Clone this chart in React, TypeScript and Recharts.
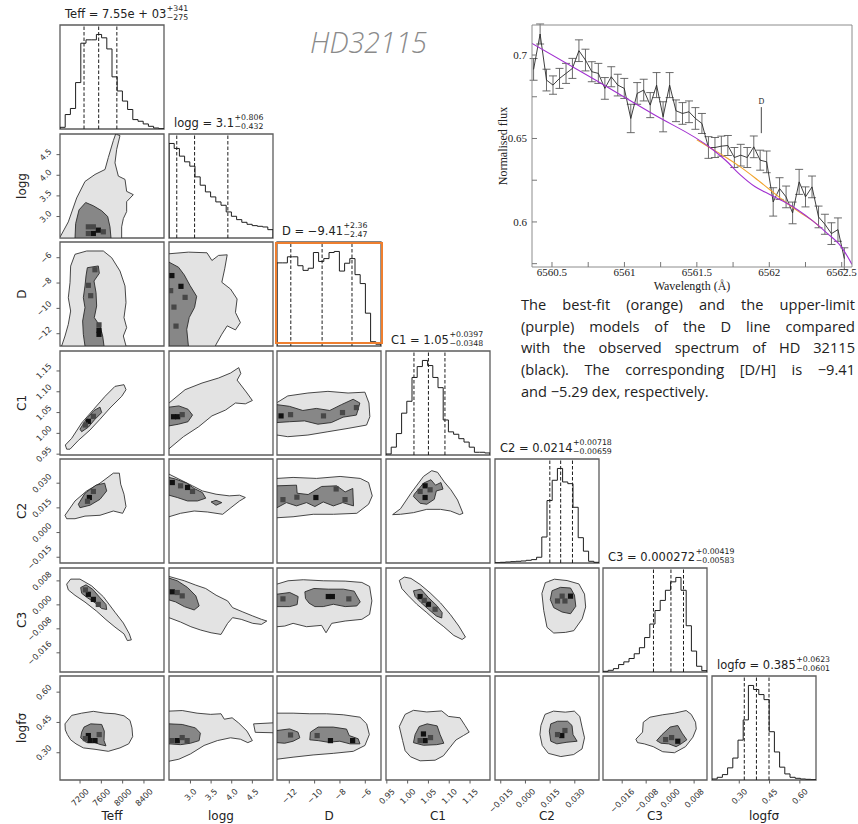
import React from "react";
import {
  ComposedChart,
  Scatter,
  Line,
  XAxis,
  YAxis,
  ReferenceLine,
  ReferenceArea,
  ReferenceDot,
  ErrorBar,
} from "recharts";

const FONT = "'DejaVu Sans', sans-serif";
const SERIF = "'Liberation Serif', 'DejaVu Serif', serif";
const FRAME = "#5c5c5c";
const INK = "#1e1e1e";
const TICK_FS = 8.2;

// ---- corner plot variables (order = rows / columns) ----
const NAMES = ["Teff", "logg", "D", "C1", "C2", "C3", "logfσ"];
const LO = [6824, 2.48, -12.97, 0.948, -0.0185, -0.0224, 0.165];
const HI = [8776, 5.0, -4.76, 1.198, 0.0447, 0.0123, 0.68];
const TICKS = [
  [7200, 7600, 8000, 8400],
  [3.0, 3.5, 4.0, 4.5],
  [-12, -10, -8, -6],
  [0.95, 1.0, 1.05, 1.1, 1.15],
  [-0.015, 0, 0.015, 0.03],
  [-0.016, -0.008, 0, 0.008],
  [0.3, 0.45, 0.6],
];
const TICK_TEXT = [
  ["7200", "7600", "8000", "8400"],
  ["3.0", "3.5", "4.0", "4.5"],
  ["−12", "−10", "−8", "−6"],
  ["0.95", "1.00", "1.05", "1.10", "1.15"],
  ["−0.015", "0.000", "0.015", "0.030"],
  ["−0.016", "−0.008", "0.000", "0.008"],
  ["0.30", "0.45", "0.60"],
];

// titles above the diagonal
const TITLE_MAIN = ["Teff = 7.55e + 03", "logg = 3.1", "D = −9.41", "C1 = 1.05", "C2 = 0.0214", "C3 = 0.000272", "logfσ = 0.385"];
const TITLE_UP = ["+341", "+0.806", "+2.36", "+0.0397", "+0.00718", "+0.00419", "+0.0623"];
const TITLE_DN = ["−275", "−0.432", "−2.47", "−0.0348", "−0.00659", "−0.00583", "−0.0601"];

// 16/50/84 % quantiles (dashed lines)
const Q_TEFF = [7275, 7550, 7891];
const Q_LOGG = [2.668, 3.1, 3.906];
const Q_D = [-11.88, -9.41, -7.05];
const Q_C1 = [1.0152, 1.05, 1.0897];
const Q_C2 = [0.01481, 0.0214, 0.02858];
const Q_C3 = [-0.005558, 0.000272, 0.004462];
const Q_LOGF = [0.3249, 0.385, 0.4473];

// 1D histogram counts, 20 bins over each range
const H_TEFF = [5, 43, 61, 138, 255, 265, 265, 281, 271, 238, 155, 113, 83, 58, 28, 23, 15, 8, 3, 1];
const H_LOGG = [283, 268, 245, 228, 215, 183, 158, 138, 123, 108, 98, 78, 65, 55, 47, 41, 37, 35, 33, 25];
const H_D = [233, 233, 250, 250, 225, 212, 218, 262, 237, 245, 262, 265, 210, 232, 245, 200, 175, 92, 12, 5];
const H_C1 = [3, 23, 63, 123, 158, 228, 260, 278, 263, 228, 198, 103, 68, 61, 48, 38, 23, 8, 8, 6];
const H_C2 = [1, 2, 3, 4, 5, 6, 8, 10, 17, 77, 185, 245, 280, 240, 235, 165, 75, 35, 5, 2];
const H_C3 = [2, 5, 10, 22, 30, 40, 54, 72, 102, 142, 182, 212, 242, 267, 280, 242, 137, 62, 17, 4];
const H_LOGF = [3, 8, 16, 36, 65, 118, 178, 280, 268, 253, 238, 143, 83, 38, 18, 8, 5, 3, 2, 1];

// 2D panels: outer / inner contour outlines and the darkest bins
const TEFF_LOGG_OUT = [[6824, 2.5], [6980, 2.87], [7137, 3.45], [7293, 3.85], [7481, 4.02], [7669, 4.14], [7731, 4.43], [7825, 4.84], [7869, 5.0], [7950, 4.96], [7888, 4.63], [7856, 4.3], [7919, 3.98], [8044, 3.9], [8075, 3.61], [8200, 3.53], [8075, 3.36], [8075, 3.12], [8013, 2.95], [7981, 2.75], [7981, 2.48], [6824, 2.48]];
const TEFF_LOGG_IN = [[7106, 2.48], [7118, 2.83], [7181, 3.16], [7306, 3.34], [7450, 3.26], [7606, 3.14], [7719, 3.0], [7762, 2.75], [7781, 2.48]];
const TEFF_LOGG_DARK = [[7543, 2.67, 2], [7450, 2.59, 2], [7356, 2.75, 1], [7450, 2.75, 1], [7356, 2.59, 1], [7637, 2.63, 1]];

const TEFF_D_OUT = [[6855, -12.97], [6918, -12.18], [6980, -11.26], [7024, -10.21], [6980, -9.16], [7012, -7.97], [7024, -6.66], [7106, -5.73], [7325, -5.47], [7637, -5.47], [7794, -6.0], [7950, -7.05], [8044, -8.23], [8063, -9.55], [8025, -10.73], [8075, -11.52], [8013, -12.18], [8063, -12.97]];
const TEFF_D_IN = [[7312, -7.44], [7337, -6.79], [7543, -6.65], [7562, -7.23], [7462, -7.84], [7500, -8.76], [7512, -9.81], [7468, -10.73], [7575, -11.39], [7625, -12.18], [7650, -12.97], [7293, -12.97], [7262, -12.05], [7249, -11.0], [7293, -9.94], [7262, -9.15], [7293, -8.23]];
const TEFF_D_DARK = [[7556, -11.73, 2], [7556, -12.05, 2], [7356, -8.18, 1], [7480, -6.95, 1], [7400, -9.0, 1], [7556, -11.3, 1]];

const LOGG_D_OUT = [[2.48, -5.69], [2.95, -5.56], [3.4, -5.61], [3.52, -6.22], [3.68, -5.82], [3.89, -5.77], [3.83, -6.88], [3.76, -7.94], [3.97, -8.47], [4.13, -9.26], [4.09, -10.32], [4.21, -11.12], [4.09, -11.7], [3.89, -11.38], [3.76, -12.04], [3.6, -12.97], [2.48, -12.97]];
const LOGG_D_IN = [[2.48, -6.35], [2.71, -6.75], [2.85, -7.36], [2.99, -8.2], [3.15, -9.05], [3.1, -9.92], [2.97, -10.72], [2.91, -11.65], [2.95, -12.97], [2.48, -12.97]];
const LOGG_D_DARK = [[2.77, -8.26, 2], [2.55, -7.41, 2], [2.87, -9.13, 1], [2.6, -9.9, 1], [2.65, -11.4, 1], [2.52, -8.6, 1]];

const TEFF_C1_OUT = [[6949, 0.962], [6924, 0.972], [7043, 0.988], [7231, 1.025], [7450, 1.057], [7669, 1.089], [7856, 1.113], [8025, 1.117], [8063, 1.105], [7982, 1.089], [7763, 1.061], [7575, 1.034], [7387, 1.008], [7168, 0.983], [7012, 0.962]];
const TEFF_C1_IN = [[7199, 1.01], [7312, 1.033], [7462, 1.055], [7575, 1.063], [7606, 1.05], [7481, 1.034], [7356, 1.015], [7231, 1.004]];
const TEFF_C1_DARK = [[7356, 1.029, 2], [7450, 1.041, 1], [7300, 1.02, 1]];

const LOGG_C1_OUT = [[2.48, 1.073], [2.87, 1.105], [3.28, 1.121], [3.68, 1.133], [3.97, 1.145], [4.17, 1.158], [4.22, 1.144], [4.13, 1.128], [4.37, 1.097], [4.5, 1.079], [4.33, 1.071], [4.09, 1.073], [3.85, 1.056], [3.52, 1.042], [3.2, 1.016], [2.83, 0.992], [2.48, 0.963]];
const LOGG_C1_IN = [[2.48, 1.063], [2.72, 1.066], [2.94, 1.058], [3.05, 1.044], [2.94, 1.028], [2.71, 1.022], [2.48, 1.018]];
const LOGG_C1_DARK = [[2.59, 1.04, 2], [2.69, 1.04, 2], [2.8, 1.045, 1]];

const D_C1_OUT = [[-12.97, 1.074], [-12.12, 1.09], [-10.53, 1.097], [-8.95, 1.101], [-7.36, 1.097], [-6.03, 1.099], [-5.71, 1.073], [-5.64, 1.04], [-5.9, 1.02], [-7.36, 1.012], [-8.95, 1.004], [-10.53, 0.996], [-12.12, 0.992], [-12.97, 0.996]];
const D_C1_IN = [[-12.97, 1.069], [-11.99, 1.065], [-10.93, 1.055], [-9.87, 1.06], [-8.81, 1.055], [-7.89, 1.069], [-6.96, 1.082], [-6.43, 1.073], [-6.7, 1.044], [-7.75, 1.039], [-8.68, 1.026], [-9.74, 1.022], [-10.8, 1.03], [-11.99, 1.028], [-12.97, 1.026]];
const D_C1_DARK = [[-12.65, 1.042, 2], [-11.9, 1.045, 1], [-7.8, 1.05, 1], [-9.3, 1.042, 1], [-6.7, 1.062, 1]];

const TEFF_C2_OUT = [[6918, 0.0105], [7106, 0.0192], [7325, 0.0253], [7575, 0.03], [7825, 0.0361], [7938, 0.0361], [7963, 0.0294], [8025, 0.0233], [8063, 0.0158], [8000, 0.0117], [7825, 0.0131], [7575, 0.0105], [7293, 0.01], [7106, 0.0084], [6949, 0.0084]];
const TEFF_C2_IN = [[7168, 0.0172], [7293, 0.0239], [7500, 0.0288], [7662, 0.03], [7700, 0.0253], [7575, 0.0202], [7387, 0.0166], [7199, 0.0151]];
const TEFF_C2_DARK = [[7375, 0.0213, 2], [7340, 0.019, 1], [7450, 0.025, 1]];

const LOGG_C2_OUT = [[2.48, 0.0355], [2.72, 0.0325], [3.05, 0.0284], [3.29, 0.0253], [3.62, 0.0233], [3.94, 0.0223], [4.19, 0.0227], [4.33, 0.0213], [4.19, 0.0192], [3.98, 0.0151], [3.78, 0.0111], [3.41, 0.0125], [3.09, 0.0131], [2.76, 0.0117], [2.48, 0.0096]];
const LOGG_C2_IN = [[2.48, 0.0335], [2.64, 0.0325], [2.91, 0.03], [3.09, 0.0268], [3.29, 0.0243], [3.37, 0.0209], [3.17, 0.0192], [2.93, 0.0192], [2.68, 0.0213], [2.48, 0.0227]];
const LOGG_C2_IN2 = [[3.5, 0.0186], [3.62, 0.0196], [3.76, 0.0182], [3.62, 0.0166]];
const LOGG_C2_DARK = [[2.93, 0.0274, 2], [2.56, 0.0304, 2], [2.76, 0.0284, 1], [3.05, 0.025, 1]];

const D_C2_OUT = [[-12.97, 0.0329], [-11.7, 0.0335], [-9.85, 0.0329], [-7.99, 0.0341], [-6.4, 0.0329], [-5.74, 0.0304], [-5.45, 0.0223], [-5.74, 0.0172], [-6.67, 0.0117], [-8.52, 0.0111], [-10.11, 0.0111], [-11.7, 0.0096], [-12.97, 0.009]];
const D_C2_IN = [[-12.97, 0.0284], [-11.43, 0.0288], [-11.38, 0.0239], [-10.51, 0.0231], [-9.45, 0.028], [-8.26, 0.0284], [-7.59, 0.0247], [-6.99, 0.0268], [-6.93, 0.0162], [-7.78, 0.0182], [-8.52, 0.0162], [-9.32, 0.0186], [-9.98, 0.0158], [-10.64, 0.0182], [-11.43, 0.0162], [-12.23, 0.0182], [-12.97, 0.0151]];
const D_C2_DARK = [[-9.9, 0.0213, 2], [-11.4, 0.0215, 1], [-8.3, 0.0265, 1], [-12.5, 0.02, 1], [-7.6, 0.02, 1]];

const C1_C2_OUT = [[0.964, 0.0109], [0.983, 0.0145], [1.008, 0.0239], [1.038, 0.0341], [1.058, 0.0376], [1.072, 0.0366], [1.088, 0.0308], [1.104, 0.026], [1.12, 0.0198], [1.133, 0.0117], [1.125, 0.0109], [1.103, 0.0131], [1.079, 0.0141], [1.046, 0.0141], [1.014, 0.0121], [0.983, 0.0111]];
const C1_C2_IN = [[1.016, 0.0233], [1.038, 0.03], [1.056, 0.0321], [1.067, 0.0288], [1.08, 0.0304], [1.085, 0.0264], [1.069, 0.0253], [1.064, 0.0202], [1.046, 0.0172], [1.03, 0.0178], [1.014, 0.0219]];
const C1_C2_DARK = [[1.042, 0.0284, 2], [1.042, 0.0213, 2], [1.03, 0.025, 1], [1.054, 0.026, 1]];

const TEFF_C3_OUT = [[6949, 0.0069], [7024, 0.00859], [7199, 0.00859], [7418, 0.00634], [7637, 0.00273], [7856, -0.00245], [8013, -0.00606], [8125, -0.00967], [8163, -0.01169], [8088, -0.01192], [8025, -0.00967], [7856, -0.00741], [7687, -0.00493], [7512, -0.00211], [7293, 0.00093], [7106, 0.00318], [6980, 0.00499]];
const TEFF_C3_IN = [[7212, 0.00578], [7312, 0.00668], [7437, 0.00521], [7575, 0.00239], [7687, 0.00014], [7700, -0.00155], [7606, -0.00121], [7481, 0.00071], [7337, 0.00239], [7231, 0.00386]];
const TEFF_C3_DARK = [[7356, 0.00352, 2], [7450, 0.00183, 2], [7543, 0.00014, 1], [7300, 0.005, 1]];

const LOGG_C3_OUT = [[2.48, 0.00949], [2.85, 0.00804], [3.13, 0.00658], [3.37, 0.00546], [3.62, 0.00323], [3.9, 0.00132], [4.02, -0.00092], [4.27, -0.00237], [4.51, -0.00371], [4.72, -0.00483], [4.85, -0.00539], [4.72, -0.00651], [4.51, -0.00617], [4.23, -0.00483], [4.02, -0.00427], [3.9, -0.00617], [3.74, -0.00987], [3.5, -0.00931], [3.25, -0.00841], [3.01, -0.00729], [2.76, -0.00573], [2.48, -0.00427]];
const LOGG_C3_IN = [[2.48, 0.00893], [2.68, 0.00804], [2.93, 0.0058], [3.13, 0.003], [3.21, -0.00036], [3.09, -0.0017], [2.85, -0.00058], [2.64, 0.00099], [2.48, 0.00166]];
const LOGG_C3_DARK = [[2.56, 0.00435, 2], [2.68, 0.00412, 1], [2.8, 0.003, 1]];

const D_C3_OUT = [[-12.97, 0.00692], [-12.1, 0.00804], [-10.9, 0.00838], [-9.32, 0.00804], [-7.59, 0.00793], [-6.27, 0.00748], [-5.66, 0.00614], [-5.48, 0.00132], [-5.66, -0.00316], [-6.27, -0.00483], [-7.59, -0.00539], [-8.65, -0.00617], [-9.1, -0.00931], [-9.45, -0.00684], [-10.64, -0.00729], [-11.7, -0.00617], [-12.36, -0.00707], [-12.97, -0.00729]];
const D_C3_IN = [[-12.97, 0.00356], [-11.96, 0.00412], [-11.3, 0.00278], [-11.38, 0.00009], [-11.96, -0.00058], [-12.97, -0.00058]];
const D_C3_IN2 = [[-10.77, 0.00435], [-10.06, 0.00547], [-8.92, 0.00524], [-7.73, 0.00524], [-6.88, 0.00457], [-6.4, 0.00099], [-6.67, -0.00036], [-7.59, -0.00058], [-8.52, 0.0002], [-9.32, -0.00058], [-9.98, -0.00058], [-10.43, 0.00054], [-10.72, 0.00211]];
const D_C3_DARK = [[-8.92, 0.00278, 2], [-8.6, 0.00278, 2], [-12.5, 0.002, 1], [-7.3, 0.002, 1]];

const C1_C3_OUT = [[0.98, 0.00815], [0.992, 0.00927], [1.008, 0.00883], [1.03, 0.00681], [1.054, 0.00401], [1.079, 0.00066], [1.103, -0.00327], [1.123, -0.00707], [1.139, -0.01076], [1.131, -0.01155], [1.111, -0.0102], [1.087, -0.00729], [1.066, -0.00506], [1.046, -0.00259], [1.022, 0.0002], [1.002, 0.003], [0.986, 0.00546]];
const C1_C3_IN = [[1.014, 0.00468], [1.032, 0.00524], [1.05, 0.00244], [1.071, -0.00036], [1.083, -0.00259], [1.082, -0.00438], [1.069, -0.00371], [1.05, -0.00147], [1.032, 0.00076], [1.018, 0.00278]];
const C1_C3_DARK = [[1.03, 0.00278, 2], [1.05, 0.0002, 2], [1.066, -0.00147, 1], [1.04, 0.0015, 1]];

const C2_C3_OUT = [[0.0121, 0.00743], [0.0176, 0.00856], [0.0253, 0.00811], [0.0325, 0.00698], [0.0359, 0.00359], [0.0366, -0.0007], [0.0345, -0.00466], [0.0294, -0.00861], [0.0243, -0.00918], [0.0172, -0.0094], [0.0131, -0.00748], [0.0111, -0.00183], [0.01, 0.00382]];
const C2_C3_IN = [[0.0162, 0.00472], [0.0213, 0.00585], [0.0274, 0.00562], [0.0298, 0.00325], [0.0306, -0.00048], [0.0274, -0.00296], [0.0223, -0.0024], [0.0172, -0.00093], [0.0151, 0.00178]];
const C2_C3_DARK = [[0.0274, 0.00291, 2], [0.0223, 0.00291, 1], [0.0195, 0.0013, 1], [0.024, 0.0013, 1]];

const TEFF_LOGF_OUT = [[6918, 0.443], [7043, 0.485], [7231, 0.496], [7450, 0.505], [7669, 0.496], [7856, 0.493], [8025, 0.483], [8138, 0.46], [8175, 0.423], [8188, 0.38], [8113, 0.344], [7950, 0.324], [7731, 0.307], [7481, 0.317], [7262, 0.324], [7124, 0.344], [7024, 0.364], [6962, 0.39], [6924, 0.413]];
const TEFF_LOGF_IN = [[7231, 0.402], [7275, 0.427], [7400, 0.443], [7606, 0.44], [7656, 0.407], [7650, 0.36], [7687, 0.334], [7575, 0.341], [7462, 0.352], [7312, 0.352], [7212, 0.374]];
const TEFF_LOGF_DARK = [[7356, 0.385, 2], [7481, 0.36, 2], [7387, 0.36, 2], [7560, 0.39, 1], [7300, 0.37, 1]];

const LOGG_LOGF_OUT = [[2.48, 0.506], [2.8, 0.509], [3.16, 0.496], [3.49, 0.49], [3.74, 0.493], [3.82, 0.466], [4.01, 0.473], [4.17, 0.447], [4.37, 0.407], [4.5, 0.36], [4.39, 0.35], [4.21, 0.367], [3.97, 0.374], [3.65, 0.36], [3.33, 0.336], [3.0, 0.294], [2.72, 0.268], [2.48, 0.258]];
const LOGG_LOGF_OUT2 = [[4.53, 0.443], [5.0, 0.448], [5.0, 0.399], [4.57, 0.401]];
const LOGG_LOGF_IN = [[2.48, 0.443], [2.8, 0.44], [3.12, 0.423], [3.24, 0.397], [3.21, 0.36], [3.0, 0.347], [2.76, 0.34], [2.48, 0.344]];
const LOGG_LOGF_DARK = [[2.68, 0.36, 2], [2.55, 0.36, 1], [2.8, 0.375, 1], [2.92, 0.36, 1]];

const D_LOGF_OUT = [[-12.97, 0.496], [-11.7, 0.496], [-10.38, 0.493], [-9.06, 0.493], [-7.74, 0.488], [-6.42, 0.476], [-5.89, 0.443], [-5.68, 0.39], [-6.03, 0.336], [-6.95, 0.307], [-8.53, 0.297], [-10.12, 0.289], [-11.7, 0.278], [-12.97, 0.268]];
const D_LOGF_IN = [[-12.97, 0.41], [-11.97, 0.418], [-11.31, 0.402], [-11.17, 0.374], [-11.7, 0.357], [-12.36, 0.347], [-12.97, 0.35]];
const D_LOGF_IN2 = [[-10.33, 0.402], [-9.72, 0.427], [-8.53, 0.427], [-7.48, 0.417], [-7.27, 0.385], [-6.56, 0.369], [-6.42, 0.344], [-7.21, 0.344], [-8.01, 0.357], [-8.93, 0.352], [-9.72, 0.36], [-10.38, 0.364]];
const D_LOGF_DARK = [[-7.0, 0.36, 2], [-8.75, 0.36, 2], [-11.9, 0.388, 1], [-9.8, 0.385, 1]];

const C1_LOGF_OUT = [[0.98, 0.43], [0.994, 0.49], [1.014, 0.51], [1.046, 0.502], [1.082, 0.507], [1.098, 0.48], [1.126, 0.473], [1.138, 0.435], [1.148, 0.402], [1.134, 0.385], [1.116, 0.363], [1.102, 0.327], [1.086, 0.285], [1.066, 0.263], [1.03, 0.26], [1.007, 0.28], [0.994, 0.31], [0.988, 0.36]];
const C1_LOGF_IN = [[1.018, 0.39], [1.028, 0.43], [1.047, 0.443], [1.071, 0.433], [1.078, 0.39], [1.087, 0.347], [1.07, 0.34], [1.038, 0.337], [1.014, 0.35]];
const C1_LOGF_DARK = [[1.042, 0.36, 2], [1.038, 0.393, 2], [1.03, 0.36, 1], [1.055, 0.375, 1]];

const C2_LOGF_OUT = [[0.0094, 0.435], [0.0119, 0.49], [0.017, 0.506], [0.0242, 0.501], [0.0297, 0.506], [0.033, 0.48], [0.0344, 0.427], [0.0359, 0.374], [0.0344, 0.319], [0.0293, 0.291], [0.0215, 0.281], [0.0139, 0.297], [0.0102, 0.336], [0.0088, 0.39]];
const C2_LOGF_IN = [[0.0145, 0.407], [0.0154, 0.443], [0.0195, 0.456], [0.0256, 0.456], [0.0283, 0.435], [0.0289, 0.39], [0.0314, 0.357], [0.0252, 0.352], [0.0191, 0.344], [0.0154, 0.357]];
const C2_LOGF_DARK = [[0.0221, 0.385, 2], [0.0195, 0.39, 1], [0.024, 0.41, 1]];

const C3_LOGF_OUT = [[-0.01143, 0.367], [-0.0092, 0.402], [-0.00897, 0.451], [-0.00673, 0.476], [-0.00248, 0.488], [0.00144, 0.496], [0.00535, 0.509], [0.00703, 0.49], [0.00848, 0.451], [0.00871, 0.418], [0.00759, 0.377], [0.00513, 0.33], [0.00144, 0.3], [-0.00248, 0.305], [-0.00562, 0.33], [-0.00864, 0.344], [-0.01088, 0.35]];
const C3_LOGF_IN = [[-0.0045, 0.36], [-0.0027, 0.39], [-0.00002, 0.427], [0.00255, 0.435], [0.00401, 0.397], [0.00557, 0.364], [0.00367, 0.344], [0.002, 0.33], [-0.00047, 0.344], [-0.00304, 0.347]];
const C3_LOGF_DARK = [[0.00255, 0.357, 2], [0.0005, 0.375, 1], [-0.0015, 0.365, 1]];

// ---- spectrum inset ----
const SPEC_WL = [
  6560.373, 6560.418, 6560.462, 6560.507, 6560.552, 6560.597, 6560.641, 6560.686, 6560.731, 6560.775,
  6560.82, 6560.865, 6560.909, 6560.954, 6560.999, 6561.044, 6561.088, 6561.133, 6561.178, 6561.222,
  6561.267, 6561.312, 6561.356, 6561.401, 6561.446, 6561.49, 6561.535, 6561.58, 6561.625, 6561.669,
  6561.714, 6561.759, 6561.803, 6561.848, 6561.893, 6561.937, 6561.982, 6562.027, 6562.071, 6562.116,
  6562.161, 6562.206, 6562.25, 6562.295, 6562.34, 6562.384, 6562.429, 6562.474, 6562.518,
];
const SPEC_FLUX = [
  0.6914, 0.7126, 0.685, 0.682, 0.686, 0.689, 0.692, 0.7026, 0.697, 0.69,
  0.689, 0.68, 0.687, 0.682, 0.68, 0.662, 0.677, 0.679, 0.67, 0.682,
  0.663, 0.682, 0.6666, 0.665, 0.666, 0.662, 0.659, 0.6446, 0.6446, 0.6454,
  0.6458, 0.6386, 0.64, 0.6386, 0.645, 0.637, 0.636, 0.612, 0.62, 0.615,
  0.6054, 0.624, 0.615, 0.621, 0.603, 0.5986, 0.593, 0.5954, 0.578,
];
const SPEC_ERR = [
  0.0065, 0.006, 0.0065, 0.0055, 0.006, 0.006, 0.006, 0.0065, 0.0065, 0.006,
  0.006, 0.0065, 0.006, 0.0065, 0.006, 0.0085, 0.0065, 0.0065, 0.0075, 0.0075,
  0.009, 0.0075, 0.0065, 0.0065, 0.0065, 0.0065, 0.006, 0.0065, 0.006, 0.006,
  0.006, 0.006, 0.0065, 0.006, 0.0065, 0.006, 0.0065, 0.0085, 0.0065, 0.0065,
  0.0065, 0.0075, 0.006, 0.0065, 0.0065, 0.006, 0.0065, 0.007, 0.0065,
];
const UPPER_WL = [6560.362, 6560.8, 6561.2, 6561.6, 6561.7, 6561.8, 6561.9, 6562.0, 6562.1, 6562.2, 6562.3, 6562.4, 6562.5, 6562.571];
const UPPER_FLUX = [0.707, 0.685, 0.6645, 0.644, 0.6368, 0.6282, 0.6212, 0.6166, 0.6122, 0.607, 0.6006, 0.5932, 0.5848, 0.5745];
const BEST_WL = [6561.5, 6561.6, 6561.7, 6561.8, 6561.9, 6562.0, 6562.1, 6562.2, 6562.3, 6562.35];
const BEST_FLUX = [0.6492, 0.644, 0.6388, 0.633, 0.6265, 0.6196, 0.6127, 0.6063, 0.6006, 0.597];
const WL_TICKS = [6560.5, 6560.75, 6561, 6561.25, 6561.5, 6561.75, 6562, 6562.25, 6562.5];
const WL_LABELS = ["6560.5", "", "6561", "", "6561.5", "", "6562", "", "6562.5"];
const FLUX_TICKS = [0.575, 0.6, 0.625, 0.65, 0.675, 0.7];
const FLUX_LABELS = ["", "0.6", "", "0.65", "", "0.7"];
const D_MARK = { wl: 6561.945, lo: 0.6532, hi: 0.6688, label: 0.6722 };

const CAPTION = [
  "The best-fit (orange) and the upper-limit",
  "(purple) models of the D line compared",
  "with the observed spectrum of HD 32115",
  "(black). The corresponding [D/H] is −9.41",
  "and −5.29 dex, respectively.",
];

// ---- tables built from the arrays above ----
const HISTS = [H_TEFF, H_LOGG, H_D, H_C1, H_C2, H_C3, H_LOGF];
const QUANTS = [Q_TEFF, Q_LOGG, Q_D, Q_C1, Q_C2, Q_C3, Q_LOGF];
const PANELS = [
  { c: 0, r: 1, out: [TEFF_LOGG_OUT], inn: [TEFF_LOGG_IN], dark: TEFF_LOGG_DARK },
  { c: 0, r: 2, out: [TEFF_D_OUT], inn: [TEFF_D_IN], dark: TEFF_D_DARK },
  { c: 1, r: 2, out: [LOGG_D_OUT], inn: [LOGG_D_IN], dark: LOGG_D_DARK },
  { c: 0, r: 3, out: [TEFF_C1_OUT], inn: [TEFF_C1_IN], dark: TEFF_C1_DARK },
  { c: 1, r: 3, out: [LOGG_C1_OUT], inn: [LOGG_C1_IN], dark: LOGG_C1_DARK },
  { c: 2, r: 3, out: [D_C1_OUT], inn: [D_C1_IN], dark: D_C1_DARK },
  { c: 0, r: 4, out: [TEFF_C2_OUT], inn: [TEFF_C2_IN], dark: TEFF_C2_DARK },
  { c: 1, r: 4, out: [LOGG_C2_OUT], inn: [LOGG_C2_IN, LOGG_C2_IN2], dark: LOGG_C2_DARK },
  { c: 2, r: 4, out: [D_C2_OUT], inn: [D_C2_IN], dark: D_C2_DARK },
  { c: 3, r: 4, out: [C1_C2_OUT], inn: [C1_C2_IN], dark: C1_C2_DARK },
  { c: 0, r: 5, out: [TEFF_C3_OUT], inn: [TEFF_C3_IN], dark: TEFF_C3_DARK },
  { c: 1, r: 5, out: [LOGG_C3_OUT], inn: [LOGG_C3_IN], dark: LOGG_C3_DARK },
  { c: 2, r: 5, out: [D_C3_OUT], inn: [D_C3_IN, D_C3_IN2], dark: D_C3_DARK },
  { c: 3, r: 5, out: [C1_C3_OUT], inn: [C1_C3_IN], dark: C1_C3_DARK },
  { c: 4, r: 5, out: [C2_C3_OUT], inn: [C2_C3_IN], dark: C2_C3_DARK },
  { c: 0, r: 6, out: [TEFF_LOGF_OUT], inn: [TEFF_LOGF_IN], dark: TEFF_LOGF_DARK },
  { c: 1, r: 6, out: [LOGG_LOGF_OUT, LOGG_LOGF_OUT2], inn: [LOGG_LOGF_IN], dark: LOGG_LOGF_DARK },
  { c: 2, r: 6, out: [D_LOGF_OUT], inn: [D_LOGF_IN, D_LOGF_IN2], dark: D_LOGF_DARK },
  { c: 3, r: 6, out: [C1_LOGF_OUT], inn: [C1_LOGF_IN], dark: C1_LOGF_DARK },
  { c: 4, r: 6, out: [C2_LOGF_OUT], inn: [C2_LOGF_IN], dark: C2_LOGF_DARK },
  { c: 5, r: 6, out: [C3_LOGF_OUT], inn: [C3_LOGF_IN], dark: C3_LOGF_DARK },
];

// ---- layout ----
const SZ = 104;
const ML = 50;
const MR = 3;
const MT = 3;
const MB = 42;
const colLeft = (i: number) => Math.round(60 + i * 108.67);
const rowTop = (j: number) => Math.round(25 + j * 108.5);

const CHAR_W: Record<string, number> = { ".": 0.318, "−": 0.838 };
const textW = (s: string, fs: number) => Array.from(s).reduce((a, ch) => a + (CHAR_W[ch] ?? 0.636), 0) * fs;
const labelFor = (v: number, value: number) => TICK_TEXT[v][TICKS[v].indexOf(value)] ?? "";

function XTick(props: any) {
  const { x, y, payload, v } = props;
  const s = labelFor(v, payload.value);
  const bb = 0.707 * (textW(s, TICK_FS) + 0.8 * TICK_FS);
  const cy = y + 4 + bb / 2;
  return (
    <text x={x} y={cy} transform={`rotate(-45 ${x} ${cy})`} textAnchor="middle" dominantBaseline="central" fontSize={TICK_FS} fill="#333" fontFamily={FONT}>
      {s}
    </text>
  );
}

function YTick(props: any) {
  const { x, y, payload, v } = props;
  const s = labelFor(v, payload.value);
  const bb = 0.707 * (textW(s, TICK_FS) + 0.8 * TICK_FS);
  const cx = x - 4 - bb / 2;
  return (
    <text x={cx} y={y} transform={`rotate(-45 ${cx} ${y})`} textAnchor="middle" dominantBaseline="central" fontSize={TICK_FS} fill="#333" fontFamily={FONT}>
      {s}
    </text>
  );
}

const noShape = () => <g />;
const binShape = (p: any) => (
  <rect x={p.cx - 2.6} y={p.cy - 2.6} width={5.2} height={5.2} fill={p.payload.l === 2 ? "#111" : "#474747"} />
);
const toXY = (pts: number[][]) => pts.map(([x, y]) => ({ x, y }));

function xAxisFor(v: number, labelled: boolean) {
  return (
    <XAxis
      type="number"
      dataKey="x"
      domain={[LO[v], HI[v]]}
      allowDataOverflow
      ticks={TICKS[v]}
      interval={0}
      height={MB}
      axisLine={false}
      tickLine={{ stroke: FRAME, strokeWidth: 1 }}
      tickSize={3.5}
      tickMargin={0}
      tick={labelled ? (p: any) => <XTick {...p} v={v} /> : false}
    />
  );
}

function frame(xv: number, y0: number, y1: number) {
  return <ReferenceArea x1={LO[xv]} x2={HI[xv]} y1={y0} y2={y1} fill="none" stroke={FRAME} strokeWidth={1.3} ifOverflow="visible" />;
}

function PairPanel({ p }: { p: (typeof PANELS)[number] }) {
  const { c, r } = p;
  return (
    <div style={{ position: "absolute", left: colLeft(c) - ML, top: rowTop(r) - MT }}>
      <ComposedChart width={ML + SZ + MR} height={MT + SZ + MB} margin={{ top: MT, right: MR, bottom: 0, left: 0 }}>
        {xAxisFor(c, r === 6)}
        <YAxis
          type="number"
          dataKey="y"
          domain={[LO[r], HI[r]]}
          allowDataOverflow
          ticks={TICKS[r]}
          interval={0}
          width={ML}
          axisLine={false}
          tickLine={{ stroke: FRAME, strokeWidth: 1 }}
          tickSize={3.5}
          tickMargin={0}
          tick={c === 0 ? (pr: any) => <YTick {...pr} v={r} /> : false}
        />
        {p.out.map((poly, k) => (
          <Scatter key={`o${k}`} data={toXY(poly)} shape={noShape} line={{ fill: "#e3e3e3", stroke: "#333", strokeWidth: 0.9 }} lineType="joint" lineJointType="linearClosed" isAnimationActive={false} />
        ))}
        {p.inn.map((poly, k) => (
          <Scatter key={`i${k}`} data={toXY(poly)} shape={noShape} line={{ fill: "#878787", stroke: "#2a2a2a", strokeWidth: 0.9 }} lineType="joint" lineJointType="linearClosed" isAnimationActive={false} />
        ))}
        <Scatter data={p.dark.map(([x, y, l]) => ({ x, y, l }))} shape={binShape} isAnimationActive={false} />
        {frame(c, LO[r], HI[r])}
      </ComposedChart>
    </div>
  );
}

function HistPanel({ v }: { v: number }) {
  const counts = HISTS[v];
  const top = Math.max(...counts) * 1.1;
  const w = (HI[v] - LO[v]) / counts.length;
  const steps = [{ x: LO[v], n: 0 }, ...counts.map((n, k) => ({ x: LO[v] + k * w, n })), { x: HI[v], n: counts[counts.length - 1] }, { x: HI[v], n: 0 }];
  return (
    <div style={{ position: "absolute", left: colLeft(v) - ML, top: rowTop(v) - MT }}>
      <ComposedChart width={ML + SZ + MR} height={MT + SZ + MB} margin={{ top: MT, right: MR, bottom: 0, left: ML }}>
        {xAxisFor(v, v === 6)}
        <YAxis hide type="number" domain={[0, top]} allowDataOverflow />
        <Line data={steps} dataKey="n" type="stepAfter" stroke={INK} strokeWidth={1} dot={false} isAnimationActive={false} />
        {QUANTS[v].map((q) => (
          <ReferenceLine key={q} x={q} stroke={INK} strokeWidth={1} strokeDasharray="3.5 2" />
        ))}
        {frame(v, 0, top)}
      </ComposedChart>
    </div>
  );
}

function Title({ i }: { i: number }) {
  return (
    <div style={{ position: "absolute", left: colLeft(i) + 5, top: rowTop(i) - 21, height: 19, display: "flex", alignItems: "center", whiteSpace: "nowrap", color: "#222", fontFamily: FONT }}>
      <span style={{ fontSize: 11.5, lineHeight: "12px" }}>{TITLE_MAIN[i]}</span>
      <span style={{ display: "inline-flex", flexDirection: "column", fontSize: 7.8, lineHeight: "8.6px", marginLeft: 0.5 }}>
        <span>{TITLE_UP[i]}</span>
        <span>{TITLE_DN[i]}</span>
      </span>
    </div>
  );
}

function Spectrum() {
  const spec = SPEC_WL.map((w, k) => ({ w, f: SPEC_FLUX[k], e: SPEC_ERR[k] }));
  const upper = UPPER_WL.map((w, k) => ({ w, f: UPPER_FLUX[k] }));
  const best = BEST_WL.map((w, k) => ({ w, f: BEST_FLUX[k] }));
  const xDom = [6560.362, 6562.571];
  const yDom = [0.573, 0.718];
  const tickFont = { fontSize: 11, fill: "#222", fontFamily: SERIF };
  return (
    <div style={{ position: "absolute", left: 480, top: 20 }}>
      <ComposedChart width={377} height={287} margin={{ top: 4, right: 4, bottom: 0, left: 0 }}>
        <XAxis type="number" dataKey="w" domain={xDom} allowDataOverflow ticks={WL_TICKS} interval={0}
          tickFormatter={(t: number) => WL_LABELS[WL_TICKS.indexOf(t)] ?? ""}
          height={40} axisLine={{ stroke: "#8c8c8c" }} tickLine={{ stroke: "#777" }} tickSize={-5} tickMargin={6} tick={tickFont}
          label={{ value: "Wavelength (Å)", position: "insideBottom", offset: 17, fontSize: 12, fill: "#222", fontFamily: SERIF }} />
        <XAxis xAxisId="top" orientation="top" type="number" domain={xDom} allowDataOverflow ticks={WL_TICKS} interval={0}
          height={1} axisLine={{ stroke: "#8c8c8c" }} tickLine={{ stroke: "#777" }} tickSize={-5} tick={false} />
        <YAxis type="number" domain={yDom} allowDataOverflow ticks={FLUX_TICKS} interval={0}
          tickFormatter={(t: number) => FLUX_LABELS[FLUX_TICKS.indexOf(t)] ?? ""}
          width={52} axisLine={{ stroke: "#8c8c8c" }} tickLine={{ stroke: "#777" }} tickSize={-5} tickMargin={10} tick={tickFont}
          label={{ value: "Normalised flux", angle: -90, position: "insideLeft", offset: 23, fontSize: 12, fill: "#222", fontFamily: SERIF, style: { textAnchor: "middle" } }} />
        <YAxis yAxisId="right" orientation="right" type="number" domain={yDom} allowDataOverflow ticks={FLUX_TICKS} interval={0}
          width={1} axisLine={{ stroke: "#8c8c8c" }} tickLine={{ stroke: "#777" }} tickSize={-5} tick={false} />
        <Line data={spec} dataKey="f" type="linear" stroke="#2a2a2a" strokeWidth={0.9} dot={false} isAnimationActive={false}>
          <ErrorBar dataKey="e" width={4} stroke="#5a5a5a" strokeWidth={0.9} direction="y" />
        </Line>
        <Line data={best} dataKey="f" type="monotone" stroke="#f2a42c" strokeWidth={1.1} dot={false} isAnimationActive={false} />
        <Line data={upper} dataKey="f" type="monotone" stroke="#a12fd0" strokeWidth={1.1} dot={false} isAnimationActive={false} />
        <ReferenceLine segment={[{ x: D_MARK.wl, y: D_MARK.lo }, { x: D_MARK.wl, y: D_MARK.hi }]} stroke="#333" strokeWidth={0.9} />
        <ReferenceDot x={D_MARK.wl} y={D_MARK.label} r={0} fill="none" stroke="none"
          label={{ value: "D", position: "center", fontSize: 8, fill: "#222", fontFamily: SERIF }} />
      </ComposedChart>
    </div>
  );
}

export default function App() {
  return (
    <div style={{ position: "absolute", left: 0, top: 0, width: 858, height: 824, overflow: "hidden", background: "#fff", fontFamily: FONT }}>
      {PANELS.map((p) => (
        <PairPanel key={`${p.c}-${p.r}`} p={p} />
      ))}
      {NAMES.map((_, v) => (
        <HistPanel key={v} v={v} />
      ))}
      {NAMES.map((_, i) => (
        <Title key={i} i={i} />
      ))}
      <div style={{ position: "absolute", left: 275, top: 241.5, width: 107.5, height: 102, border: "2.8px solid #ef7f2f", boxSizing: "border-box" }} />
      <Spectrum />
      <svg width={858} height={824} style={{ position: "absolute", left: 0, top: 0, pointerEvents: "none" }}>
        {NAMES.map((n, v) => (
          <text key={`b${v}`} x={colLeft(v) + SZ / 2} y={820} textAnchor="middle" fontSize={12} fill="#222" fontFamily={FONT}>
            {n}
          </text>
        ))}
        {NAMES.slice(1).map((n, k) => (
          <text key={`l${k}`} transform={`translate(25.5 ${rowTop(k + 1) + SZ / 2}) rotate(-90)`} textAnchor="middle" fontSize={12} fill="#222" fontFamily={FONT}>
            {n}
          </text>
        ))}
        <text x={310} y={53} fontSize={28.5} fontStyle="italic" fontWeight={300} fill="#8a8a8a" fontFamily="'Open Sans', sans-serif">
          HD32115
        </text>
      </svg>
      <div style={{ position: "absolute", left: 521, top: 294, width: 334, fontFamily: "'Open Sans', sans-serif", fontSize: 14.6, lineHeight: "21.7px", color: "#222" }}>
        {CAPTION.map((line, k) => (
          <div key={k} style={{ whiteSpace: "nowrap", textAlign: k < CAPTION.length - 1 ? "justify" : "left", textAlignLast: k < CAPTION.length - 1 ? "justify" : "left" }}>
            {line}
          </div>
        ))}
      </div>
    </div>
  );
}
